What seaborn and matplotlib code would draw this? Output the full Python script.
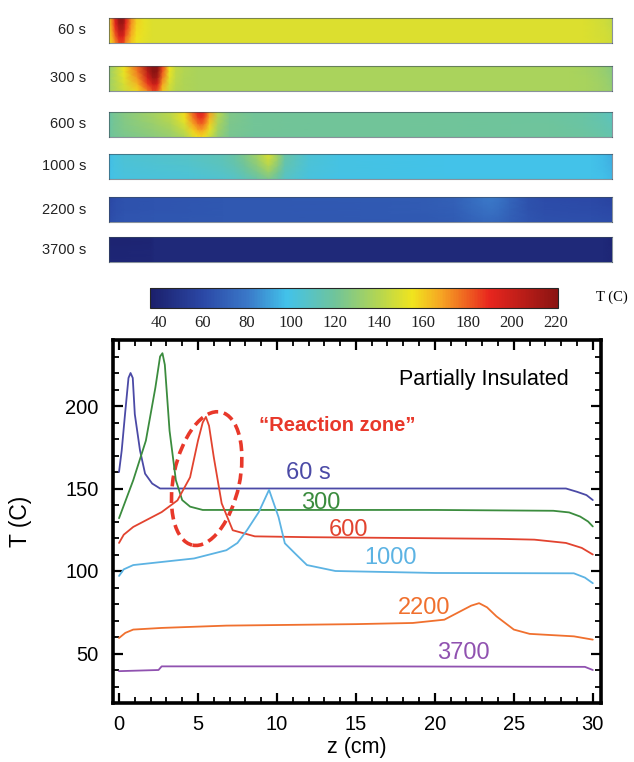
import numpy as np
import pandas as pd
import seaborn as sns
import matplotlib.pyplot as plt
from matplotlib.colors import LinearSegmentedColormap, Normalize
from matplotlib.cm import ScalarMappable
from matplotlib.patches import Ellipse
from matplotlib.ticker import MultipleLocator
from matplotlib.transforms import Affine2D

# temperature profiles T(z) along the reactor
times = ["60 s", "300", "600", "1000", "2200", "3700"]
strip_labels = ["60 s", "300 s", "600 s", "1000 s", "2200 s", "3700 s"]

z_60 = [0, 0.17, 0.38, 0.6, 0.73, 0.87, 1.0, 1.33, 1.65, 2.1, 2.6, 10, 20, 28.3, 29.0, 29.6, 30]
T_60 = [160, 173, 195, 217, 220, 217, 195, 173, 159, 153, 150, 150, 150, 150, 148, 146, 143]

z_300 = [0, 0.9, 1.7, 2.3, 2.6, 2.75, 2.9, 3.2, 3.6, 4.0, 4.5, 5.3, 10, 20, 27.5, 28.5, 29.2, 29.7, 30]
T_300 = [132, 155, 179, 211, 230, 232, 225, 185, 155, 143, 139, 137, 137, 137, 136.5, 135.5, 133, 130, 127]

z_600 = [0, 0.3, 0.9, 2.7, 3.7, 4.5, 5.0, 5.3, 5.5, 5.7, 6.0, 6.5, 7.2, 8.6, 12, 18, 24, 26.3, 28.3, 29.3, 30]
T_600 = [117, 122, 126.7, 135.7, 142.8, 156.8, 179, 190, 193.4, 188, 169, 141, 124.7, 121, 120.5, 120,
         119.5, 119, 117, 114, 110]

z_1000 = [0, 0.3, 0.9, 4.75, 6.8, 7.5, 8.1, 8.85, 9.5, 10.1, 10.5, 11.15, 11.9, 13.7, 20, 28.8, 29.5, 30]
T_1000 = [97, 101, 103.6, 107.6, 112.6, 117, 124.7, 135.7, 149.2, 132.7, 116.8, 110.6, 103.6, 100, 98.8,
          98.6, 96, 92.6]

z_2200 = [0, 0.4, 0.9, 2.7, 6.8, 15, 18.6, 20.6, 21.6, 22.3, 22.8, 23.3, 23.9, 25, 26, 28.8, 30]
T_2200 = [59.4, 62.5, 64.5, 65.5, 66.9, 67.8, 68.5, 70.5, 75.5, 79, 80.5, 78, 72.5, 64.5, 61.9, 60.4, 58.4]

z_3700 = [0, 2.5, 2.7, 15, 29.5, 30]
T_3700 = [39.3, 40, 42.2, 42.2, 41.9, 40]

profiles_z = [z_60, z_300, z_600, z_1000, z_2200, z_3700]
profiles_T = [T_60, T_300, T_600, T_1000, T_2200, T_3700]

# plateau temperature of each strip and how strongly the hot spot reaches across the radius
strip_base = [150, 137, 120, 99, 66, 42]
radial_weight = [1.0, 0.92, 0.8, 0.65, 0.5]

line_colors = ["#4b4aa6", "#3b8c3e", "#e2432f", "#5cb3e3", "#f0702e", "#9052b0"]
cbar_ticks = [40, 60, 80, 100, 120, 140, 160, 180, 200, 220]

sns.set_theme(style="ticks")
plt.rcParams["font.family"] = ["Liberation Sans", "DejaVu Sans"]
plt.rcParams["text.color"] = "black"
plt.rcParams["axes.labelcolor"] = "black"
plt.rcParams["xtick.color"] = "black"
plt.rcParams["ytick.color"] = "black"

vmin, vmax = 36, 221
nodes = [(36, "#1b1f6b"), (60, "#2b48a6"), (80, "#3a78c8"), (98, "#42c2ea"), (120, "#70c49a"),
         (140, "#b5d650"), (155, "#f0e41e"), (168, "#f6a623"), (190, "#e8261e"), (221, "#8b1412")]
cmap = LinearSegmentedColormap.from_list(
    "temp", [((v - vmin) / (vmax - vmin), c) for v, c in nodes])
norm = Normalize(vmin, vmax)

fig = plt.figure(figsize=(6.34, 7.62), dpi=100)
W, H = 634, 762

# ---- top: temperature field strips ----
strip_tops = [18, 66, 112, 154, 197, 237]
for top, lab, z, T, base in zip(strip_tops, strip_labels, profiles_z, profiles_T, strip_base):
    sax = fig.add_axes([109 / W, (H - top - 25) / H, 503 / W, 25 / H])
    zz = np.asarray(z, float)
    TT = np.asarray(T, float)
    rr = np.arange(len(radial_weight))
    Z, R = np.meshgrid(zz, rr)
    C = base + (TT[None, :] - base) * np.asarray(radial_weight)[:, None]
    sax.pcolormesh(Z, R, C, shading="gouraud", cmap=cmap, norm=norm)
    sax.set_xlim(0, 30)
    sax.set_ylim(rr[-1], 0)
    sax.set_xticks([])
    sax.set_yticks([])
    for sp in sax.spines.values():
        sp.set_color("#3a4a5a")
        sp.set_linewidth(0.8)
        sp.set_alpha(0.6)
    sax.text(-0.045, 0.5, lab, transform=sax.transAxes, ha="right", va="center",
             fontsize=10.5, color="#222222")

# ---- colorbar ----
cax = fig.add_axes([150 / W, (H - 308) / H, 408 / W, 20 / H])
cb = fig.colorbar(ScalarMappable(norm=norm, cmap=cmap), cax=cax, orientation="horizontal")
cb.set_ticks(cbar_ticks)
cb.outline.set_linewidth(0.8)
cax.tick_params(direction="in", length=3, width=0.6, color="#555555", top=True, bottom=True,
                labelsize=12, pad=5, labelcolor="#222222")
for t in cax.get_xticklabels():
    t.set_fontfamily(["Liberation Serif", "DejaVu Serif"])
fig.text(612 / W, (H - 297) / H, "T (C)", ha="center", va="center", fontsize=10.5,
         family=["Liberation Serif", "DejaVu Serif"])

# ---- bottom: axial temperature profiles ----
ax = fig.add_axes([112.7 / W, (H - 703) / H, 488 / W, 363 / H])
frames = [pd.DataFrame({"z": z, "T": T, "time": name})
          for name, z, T in zip(times, profiles_z, profiles_T)]
df = pd.concat(frames, ignore_index=True)
sns.lineplot(data=df, x="z", y="T", hue="time", palette=dict(zip(times, line_colors)),
             estimator=None, sort=False, legend=False, linewidth=1.3, ax=ax)

ax.set_xlim(-0.4, 30.5)
ax.set_ylim(20, 240)
ax.xaxis.set_major_locator(MultipleLocator(5))
ax.xaxis.set_minor_locator(MultipleLocator(1))
ax.set_yticks([50, 100, 150, 200])
ax.yaxis.set_minor_locator(MultipleLocator(10))
ax.tick_params(which="both", direction="in", top=True, right=True, color="black")
ax.tick_params(which="major", length=7, width=1.6, labelsize=14.5, pad=10)
ax.tick_params(axis="x", which="major", pad=9)
ax.tick_params(which="minor", length=4, width=1.3)
for sp in ax.spines.values():
    sp.set_linewidth(2.6)
    sp.set_color("black")

ax.set_xlabel("z (cm)", fontsize=15.5)
ax.set_ylabel("T (C)", fontsize=16.5)
ax.xaxis.set_label_coords(0.5, -0.095)
ax.yaxis.set_label_coords(-0.165, 0.5)

label_pos = [(12.0, 159.6), (12.8, 141), (14.5, 124.7), (17.2, 107.8), (19.3, 77.7), (21.8, 50.6)]
for name, (x, y), c in zip(times, label_pos, line_colors):
    ax.text(x, y, name, color=c, fontsize=17, ha="center", va="center")

ax.text(28.5, 216, "Partially Insulated", ha="right", va="center", fontsize=15.5, color="black")
ax.text(13.8, 188, "\u201cReaction zone\u201d", ha="center", va="center", fontsize=14.5,
        color="#e8382a", fontweight="bold")

px_x = 488 / (30.5 + 0.4)
px_y = 363 / (240 - 20)
ell = Ellipse((0, 0), width=66, height=136, angle=-12, fill=False, edgecolor="#e8382a",
              linewidth=2.6, linestyle=(0, (3, 1.6)),
              transform=Affine2D().scale(1 / px_x, 1 / px_y).translate(5.55, 156) + ax.transData)
ax.add_patch(ell)

fig.savefig("out.png", dpi=100)
